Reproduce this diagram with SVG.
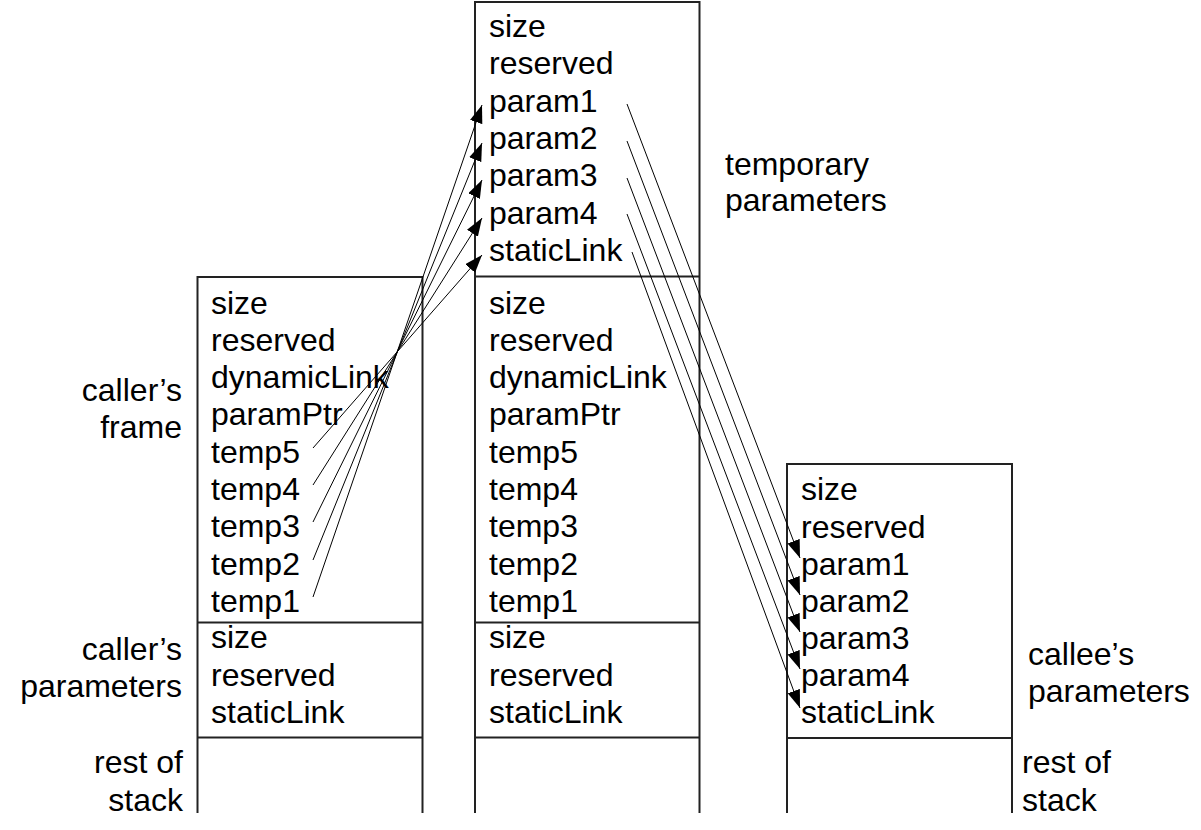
<svg xmlns="http://www.w3.org/2000/svg" width="1201" height="830" viewBox="0 0 1201 830">
<defs>
<style>
text{font-family:"Liberation Sans",Arial,sans-serif;font-size:32px;fill:#000}
.box{fill:none;stroke:#222;stroke-width:2}
.lbl{text-anchor:end}
.conn line{stroke:#000;stroke-width:1;marker-end:url(#ah)}
</style>
<marker id="ah" markerUnits="userSpaceOnUse" markerWidth="20" markerHeight="14" refX="18" refY="6.5" orient="auto">
<path d="M0,0 L18,6.5 L0,13 z" fill="#000"/>
</marker>
</defs>
<rect width="1201" height="830" fill="#fff"/>

<g id="caller-column">
<path class="box" d="M197.5,813 V277 H422.5 V813 M197.5,622.5 H422.5 M197.5,737.5 H422.5"/>
<text x="211" y="313.5">size</text>
<text x="211" y="350.8">reserved</text>
<text x="211" y="388.1">dynamicLink</text>
<text x="211" y="425.4">paramPtr</text>
<text x="211" y="462.7">temp5</text>
<text x="211" y="500">temp4</text>
<text x="211" y="537.3">temp3</text>
<text x="211" y="574.6">temp2</text>
<text x="211" y="611.9">temp1</text>
<text x="211" y="648">size</text>
<text x="211" y="686">reserved</text>
<text x="211" y="723.3">staticLink</text>
</g>

<g id="middle-column">
<path class="box" d="M475,813 V2 H699.5 V813 M475,276.5 H699.5 M475,622.5 H699.5 M475,737.5 H699.5"/>
<text x="489" y="37">size</text>
<text x="489" y="74.3">reserved</text>
<text x="489" y="111.6">param1</text>
<text x="489" y="149">param2</text>
<text x="489" y="186.2">param3</text>
<text x="489" y="223.5">param4</text>
<text x="489" y="260.8">staticLink</text>
<text x="489" y="313.5">size</text>
<text x="489" y="350.8">reserved</text>
<text x="489" y="388.1">dynamicLink</text>
<text x="489" y="425.4">paramPtr</text>
<text x="489" y="462.7">temp5</text>
<text x="489" y="500">temp4</text>
<text x="489" y="537.3">temp3</text>
<text x="489" y="574.6">temp2</text>
<text x="489" y="611.9">temp1</text>
<text x="489" y="648">size</text>
<text x="489" y="686">reserved</text>
<text x="489" y="723.3">staticLink</text>
</g>

<g id="callee-column">
<path class="box" d="M787,813 V464 H1012 V813 M787,738 H1012"/>
<text x="801" y="500">size</text>
<text x="801" y="538">reserved</text>
<text x="801" y="575">param1</text>
<text x="801" y="612">param2</text>
<text x="801" y="648.5">param3</text>
<text x="801" y="685.5">param4</text>
<text x="801" y="723.3">staticLink</text>
</g>

<g id="labels">
<text class="lbl" x="182" y="401">caller’s</text>
<text class="lbl" x="182" y="438">frame</text>
<text class="lbl" x="182" y="660">caller’s</text>
<text class="lbl" x="182" y="697">parameters</text>
<text class="lbl" x="183" y="773">rest of</text>
<text class="lbl" x="183" y="811">stack</text>
<text x="725" y="175">temporary</text>
<text x="725" y="211">parameters</text>
<text x="1028" y="665">callee’s</text>
<text x="1028" y="702">parameters</text>
<text x="1022" y="773">rest of</text>
<text x="1022" y="811">stack</text>
</g>

<g id="connectors" class="conn">
<line x1="313" y1="448" x2="482" y2="255"/>
<line x1="313" y1="485" x2="482" y2="218"/>
<line x1="313" y1="522" x2="482" y2="180"/>
<line x1="313" y1="560" x2="482" y2="143"/>
<line x1="313" y1="597" x2="482" y2="105"/>
<line x1="627" y1="104" x2="800" y2="558"/>
<line x1="627" y1="141" x2="800" y2="595"/>
<line x1="627" y1="178" x2="800" y2="632"/>
<line x1="627" y1="214" x2="800" y2="669"/>
<line x1="632" y1="252" x2="800" y2="708"/>
</g>
</svg>
